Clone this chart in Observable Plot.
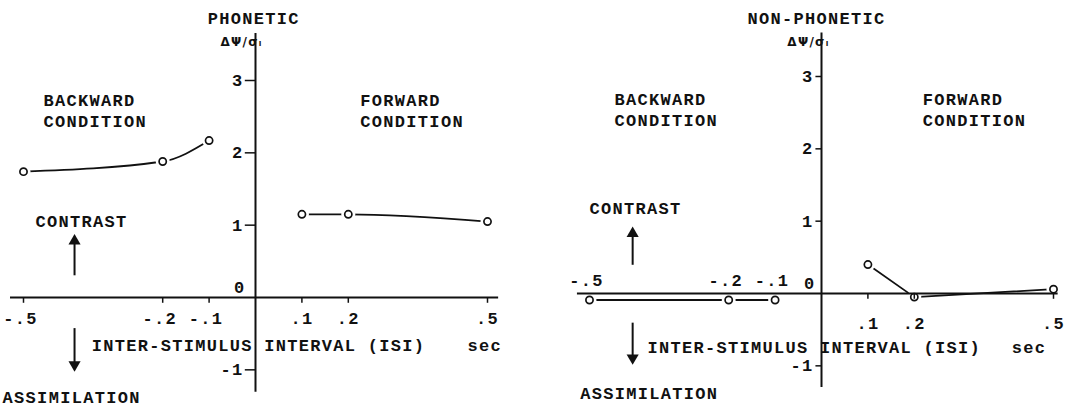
<!DOCTYPE html>
<html>
<head>
<meta charset="utf-8">
<script src="https://cdn.jsdelivr.net/npm/d3@7"></script>
<script src="https://cdn.jsdelivr.net/npm/@observablehq/plot@0.6"></script>
<style>
  html, body { margin: 0; padding: 0; background: #fff; }
  #wrap { display: flex; width: 1074px; height: 409px; }
</style>
</head>
<body>
<div id="wrap"></div>
<script>
// ---- data ----
const isiBackward = [-0.5, -0.2, -0.1];
const isiForward = [0.1, 0.2, 0.5];
const phoneticBackward = [1.74, 1.88, 2.17];
const phoneticForward = [1.15, 1.15, 1.05];
const nonPhoneticBackward = [-0.09, -0.09, -0.09];
const nonPhoneticForward = [0.40, -0.05, 0.06];
const xTicks = [-0.5, -0.2, -0.1, 0.1, 0.2, 0.5];
const xTickLabels = ["-.5", "-.2", "-.1", ".1", ".2", ".5"];
const yTicks = [-1, 1, 2, 3];
const yTickLabels = ["-1", "1", "2", "3"];
const panelTitles = ["PHONETIC", "NON-PHONETIC"];

const FONT = "Liberation Mono";

function panel(o) {
  const back = isiBackward.map((x, i) => ({x, y: o.back[i]}));
  const fwd = isiForward.map((x, i) => ({x, y: o.fwd[i]}));
  const pts = back.concat(fwd);
  const ticksIdx = xTicks.map((t, i) => i);
  const txt = {fontFamily: FONT, fontSize: 17, fontWeight: 600, fill: "#111"};
  const negIdx = ticksIdx.filter(i => xTicks[i] < 0);
  const posIdx = ticksIdx.filter(i => xTicks[i] > 0);
  return Plot.plot({
    width: 537, height: 409, margin: 0,
    style: {background: "#fff", letterSpacing: "1.3px"},
    x: {type: "linear", domain: [-0.5, 0.5], range: [o.ax - 232, o.ax + 232], axis: null},
    y: {type: "linear", domain: [0, 3], range: [o.ay, o.ay - 217], axis: null},
    marks: [
      // data lines
      Plot.line(back, {x: "x", y: "y", curve: "monotone-x", stroke: "#111", strokeWidth: 1.8}),
      Plot.line(fwd, {x: "x", y: "y", curve: o.fwdCurve, stroke: "#111", strokeWidth: 1.8}),
      Plot.dot(pts, {x: "x", y: "y", r: 7, fill: "#fff", stroke: "none"}),
      Plot.dot(pts, {x: "x", y: "y", r: 3.6, fill: "#fff", stroke: "#111", strokeWidth: 1.7}),
      // axes
      Plot.ruleY([0], {x1: o.xa[0], x2: o.xa[1], stroke: "#111", strokeWidth: 2}),
      Plot.ruleX([0], {y1: o.ya[0], y2: o.ya[1], stroke: "#111", strokeWidth: 2}),
      Plot.ruleX(o.tickIdx, {x: i => xTicks[i], y1: 0, y2: -0.08, stroke: "#111", strokeWidth: 1.5}),
      Plot.ruleY(yTicks, {y: d => d, x1: o.ytl, x2: 0, stroke: "#111", strokeWidth: 1.5}),
      // tick labels
      Plot.text(negIdx, {x: i => xTicks[i], y: o.negY, text: i => xTickLabels[i], ...txt, dx: -3}),
      Plot.text(posIdx, {x: i => xTicks[i], y: o.posY, text: i => xTickLabels[i], ...txt}),
      Plot.text(yTicks, {x: 0, y: d => d, text: (d, i) => yTickLabels[i], textAnchor: "end", dx: o.ydx, ...txt}),
      Plot.text(["0"], {x: 0, y: 0, text: d => d, textAnchor: "end", dx: o.ydx + 2, dy: -10, ...txt}),
      // titles & annotations
      Plot.text([o.title], {x: o.tx, y: o.ty, text: d => d, ...txt}),
      Plot.text(["ΔΨ/σᵢ"], {x: o.sx, y: o.sy, text: d => d, ...txt, fontFamily: "DejaVu Sans", fontSize: 12, fontWeight: 700}),
      Plot.text(["BACKWARD\nCONDITION"], {x: o.bx, y: o.by, text: d => d, textAnchor: "start", lineHeight: 1.25, ...txt}),
      Plot.text(["FORWARD\nCONDITION"], {x: o.fx, y: o.by, text: d => d, textAnchor: "start", lineHeight: 1.25, ...txt}),
      Plot.text(["CONTRAST"], {x: o.cx, y: o.cy, text: d => d, textAnchor: "start", ...txt}),
      Plot.text(["INTER-STIMULUS INTERVAL (ISI)"], {x: o.ix, y: o.iy, text: d => d, textAnchor: "start", ...txt}),
      Plot.text(["sec"], {x: o.secx, y: o.iy, text: d => d, textAnchor: "start", ...txt}),
      Plot.text(["ASSIMILATION"], {x: o.asx, y: o.asy, text: d => d, textAnchor: "start", ...txt}),
      // arrows
      Plot.ruleX([o.arx], {x: d => d, y1: o.up[0], y2: o.up[1] - 0.08, stroke: "#111", strokeWidth: 2}),
      Plot.dot([o.arx], {x: d => d, y: o.up[1] - 0.08, symbol: "triangle", r: 4.5, fill: "#111", stroke: "none"}),
      Plot.ruleX([o.arx], {x: d => d, y1: o.down[0], y2: o.down[1] + 0.08, stroke: "#111", strokeWidth: 2}),
      Plot.dot([o.arx], {x: d => d, y: o.down[1] + 0.08, symbol: "triangle", rotate: 180, r: 4.5, fill: "#111", stroke: "none"})
    ]
  });
}

const wrap = document.getElementById("wrap");
wrap.append(panel({
  back: phoneticBackward, fwd: phoneticForward, title: panelTitles[0], fwdCurve: "monotone-x",
  ax: 255, ay: 297,
  xa: [-0.528, 0.524], ya: [-1.31, 3.65],
  tickIdx: [0, 1, 2, 3, 4, 5], ytl: -0.022, ydx: -12,
  negY: -0.29, posY: -0.29,
  tx: -0.004, ty: 3.86, sx: -0.03, sy: 3.53,
  bx: -0.457, by: 2.6, fx: 0.226,
  cx: -0.474, cy: 1.05,
  ix: -0.353, iy: -0.66, secx: 0.457,
  asx: -0.545, asy: -1.38,
  arx: -0.39, up: [0.30, 0.86], down: [-0.43, -1.01]
}));
wrap.append(panel({
  back: nonPhoneticBackward, fwd: nonPhoneticForward, title: panelTitles[1], fwdCurve: "linear",
  ax: 284, ay: 293,
  xa: [-0.526, 0.51], ya: [-1.3, 3.6],
  tickIdx: [3, 4, 5], ytl: -0.012, ydx: -8,
  negY: 0.18, posY: -0.41,
  tx: -0.011, ty: 3.80, sx: -0.028, sy: 3.47,
  bx: -0.446, by: 2.55, fx: 0.218,
  cx: -0.5, cy: 1.18,
  ix: -0.375, iy: -0.75, secx: 0.41,
  asx: -0.52, asy: -1.38,
  arx: -0.407, up: [0.39, 0.91], down: [-0.41, -0.97]
}));
</script>
</body>
</html>
